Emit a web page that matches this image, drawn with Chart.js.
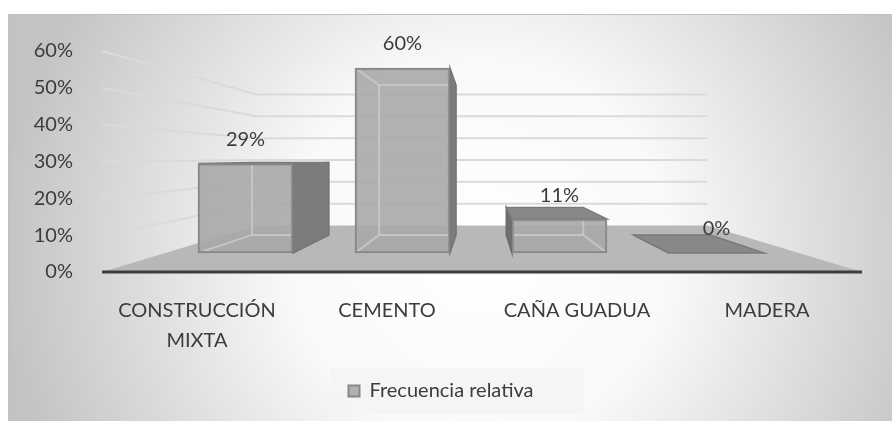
<!DOCTYPE html>
<html>
<head>
<meta charset="utf-8">
<script src="https://cdn.jsdelivr.net/npm/chart.js@4"></script>
<style>
  html, body { margin: 0; padding: 0; background: #fff; }
  #wrap { width: 892px; height: 421px; }
</style>
</head>
<body>
<div id="wrap"><canvas id="chart" width="892" height="421"></canvas></div>
<script>
// data
const categories = [['CONSTRUCCIÓN', 'MIXTA'], 'CEMENTO', 'CAÑA GUADUA', 'MADERA'];
const relFreq = [0.29, 0.60, 0.11, 0.00];
const yTicks = [0, 0.1, 0.2, 0.3, 0.4, 0.5, 0.6];
const seriesName = 'Frecuencia relativa';

const FONT = 'Lato, "Open Sans", sans-serif';
const INK = '#3c3c3c';
// fake 3D view: eye height (as a y value), depth factors of back wall and bar backs
const VIEW = { eye: 0.31, wallDepth: 0.593, barDepth: 0.81 };

const pct = v => Math.round(v * 100) + '%';

function persp(V, px, py, s) {
  return { x: V.x + s * (px - V.x), y: V.y + s * (py - V.y) };
}

function quad(ctx, pts, fill, stroke) {
  ctx.beginPath();
  ctx.moveTo(pts[0].x, pts[0].y);
  pts.slice(1).forEach(p => ctx.lineTo(p.x, p.y));
  ctx.closePath();
  ctx.fillStyle = fill;
  ctx.fill();
  if (stroke) { ctx.strokeStyle = stroke; ctx.lineWidth = 1.5; ctx.stroke(); }
}

function vanish(chart) {
  const ca = chart.chartArea;
  return { x: (ca.left + ca.right) / 2, y: chart.scales.y.getPixelForValue(VIEW.eye) };
}

const excel3d = {
  id: 'excel3d',
  beforeDraw(chart) {
    const { ctx, width, height } = chart;
    ctx.save();
    ctx.fillStyle = '#fff';
    ctx.fillRect(0, 0, width, height);
    const g = ctx.createRadialGradient(480, 250, 0, 480, 250, 480);
    g.addColorStop(0, '#ffffff');
    g.addColorStop(0.4, '#f9f9f9');
    g.addColorStop(1, '#c3c3c3');
    ctx.fillStyle = g;
    ctx.fillRect(8, 14, width - 8, height - 14);
    ctx.strokeStyle = '#c0c0c0';
    ctx.lineWidth = 1;
    ctx.beginPath();
    ctx.moveTo(8.5, height);
    ctx.lineTo(8.5, 14.5);
    ctx.lineTo(width, 14.5);
    ctx.stroke();

    // legend panel
    const hb = chart.legend && chart.legend.legendHitBoxes[0];
    if (hb) {
      ctx.fillStyle = 'rgba(244,244,244,0.9)';
      ctx.fillRect(hb.left - 18, hb.top + hb.height / 2 - 23, hb.width + 68, 46);
    }
    ctx.restore();
  },
  beforeDatasetsDraw(chart) {
    const { ctx, chartArea: ca } = chart;
    const y = chart.scales.y;
    const V = vanish(chart);
    const s = VIEW.wallDepth;
    const backL = persp(V, ca.left, 0, s).x;
    const backR = persp(V, ca.right, 0, s).x;
    ctx.save();

    // side wall + back wall gridlines
    ctx.strokeStyle = '#dadada';
    ctx.lineWidth = 2;
    yTicks.forEach(t => {
      if (t === 0) return;
      const fy = y.getPixelForValue(t);
      const by = persp(V, 0, fy, s).y;
      ctx.beginPath();
      ctx.moveTo(ca.left, fy);
      ctx.lineTo(backL, by);
      ctx.lineTo(backR, by);
      ctx.stroke();
    });

    // floor
    const f0 = y.getPixelForValue(0);
    const fb = persp(V, 0, f0, s).y;
    quad(ctx, [{ x: ca.left, y: f0 }, { x: backL, y: fb }, { x: backR, y: fb }, { x: ca.right, y: f0 }], '#b8b8b8');
    ctx.strokeStyle = '#3d3d3d';
    ctx.lineWidth = 3;
    ctx.beginPath();
    ctx.moveTo(ca.left, f0);
    ctx.lineTo(ca.right, f0);
    ctx.stroke();

    // outer faces of the boxes
    const meta = chart.getDatasetMeta(0);
    meta.data.forEach(bar => {
      const { x, y: top, base, width } = bar.getProps(['x', 'y', 'base', 'width'], true);
      const x0 = x - width / 2, x1 = x + width / 2;
      const P = (px, py) => persp(V, px, py, VIEW.barDepth);
      const bTL = P(x0, top), bTR = P(x1, top), bBL = P(x0, base), bBR = P(x1, base);
      if (bTR.x > x1) quad(ctx, [{ x: x1, y: top }, bTR, bBR, { x: x1, y: base }], '#7c7c7c', '#747474');
      if (bTL.x < x0) quad(ctx, [{ x: x0, y: top }, bTL, bBL, { x: x0, y: base }], '#6f6f6f', '#6a6a6a');
      if (bTL.y < top) quad(ctx, [{ x: x0, y: top }, bTL, bTR, { x: x1, y: top }], '#888888', '#7a7a7a');
    });
    ctx.restore();
  },
  afterDatasetsDraw(chart) {
    const { ctx } = chart;
    const V = vanish(chart);
    const meta = chart.getDatasetMeta(0);
    ctx.save();
    meta.data.forEach((bar, i) => {
      const { x, y: top, base, width } = bar.getProps(['x', 'y', 'base', 'width'], true);
      const x0 = x - width / 2, x1 = x + width / 2;
      if (base - top > 4) {
        const P = (px, py) => persp(V, px, py, VIEW.barDepth);
        const bTL = P(x0, top), bTR = P(x1, top), bBL = P(x0, base), bBR = P(x1, base);
        ctx.save();
        ctx.beginPath();
        ctx.rect(x0 + 2, top + 2, width - 4, base - top - 4);
        ctx.clip();
        ctx.strokeStyle = 'rgba(200,200,200,0.9)';
        ctx.lineWidth = 2;
        ctx.beginPath();
        ctx.moveTo(bTL.x, bTL.y); ctx.lineTo(bTR.x, bTR.y); ctx.lineTo(bBR.x, bBR.y); ctx.lineTo(bBL.x, bBL.y); ctx.closePath();
        ctx.moveTo(x0, top); ctx.lineTo(bTL.x, bTL.y);
        ctx.moveTo(x1, top); ctx.lineTo(bTR.x, bTR.y);
        ctx.moveTo(x0, base); ctx.lineTo(bBL.x, bBL.y);
        ctx.moveTo(x1, base); ctx.lineTo(bBR.x, bBR.y);
        ctx.stroke();
        ctx.restore();
      }
      ctx.fillStyle = INK;
      ctx.font = '20px ' + FONT;
      ctx.textAlign = 'center';
      ctx.textBaseline = 'middle';
      ctx.fillText(pct(relFreq[i]), x, top - 24);
    });
    ctx.restore();
  }
};

Chart.defaults.font.family = FONT;
Chart.defaults.color = INK;

new Chart(document.getElementById('chart'), {
  type: 'bar',
  data: {
    labels: categories,
    datasets: [{
      label: seriesName,
      data: relFreq.map((v, i) => ({ x: i, y: v })),
      xAxisID: 'xb',
      yAxisID: 'yb',
      backgroundColor: 'rgba(168,168,168,0.9)',
      borderColor: '#888888',
      borderWidth: 2,
      borderSkipped: false,
      barThickness: 95
    }]
  },
  options: {
    responsive: false,
    devicePixelRatio: 1,
    animation: false,
    layout: { padding: { left: 20, right: 30, top: 51, bottom: 10 } },
    plugins: {
      tooltip: { enabled: false },
      legend: {
        position: 'bottom',
        labels: { boxWidth: 11, boxHeight: 11, color: INK, font: { size: 20 }, padding: 10 }
      }
    },
    scales: {
      x: {
        type: 'category',
        position: 'bottom',
        offset: true,
        grid: { display: false },
        border: { display: false },
        ticks: { color: INK, font: { size: 20, lineHeight: 1.5 }, padding: 16, maxRotation: 0, autoSkip: false },
        afterFit(s) { s.height = 99; }
      },
      y: {
        type: 'linear',
        position: 'left',
        min: yTicks[0],
        max: yTicks[yTicks.length - 1],
        grid: { display: false },
        border: { display: false },
        afterBuildTicks(s) { s.ticks = yTicks.map(v => ({ value: v })); },
        ticks: { color: INK, font: { size: 20 }, padding: 21, callback: v => pct(v) },
        afterFit(s) { s.width = 82; }
      },
      // hidden scales that place the bars in the middle of the fake depth
      xb: { type: 'linear', display: false, offset: false, min: -0.914, max: 3.927 },
      yb: { type: 'linear', display: false, min: -0.0616, max: 0.6551 }
    }
  },
  plugins: [excel3d]
});
</script>
</body>
</html>
